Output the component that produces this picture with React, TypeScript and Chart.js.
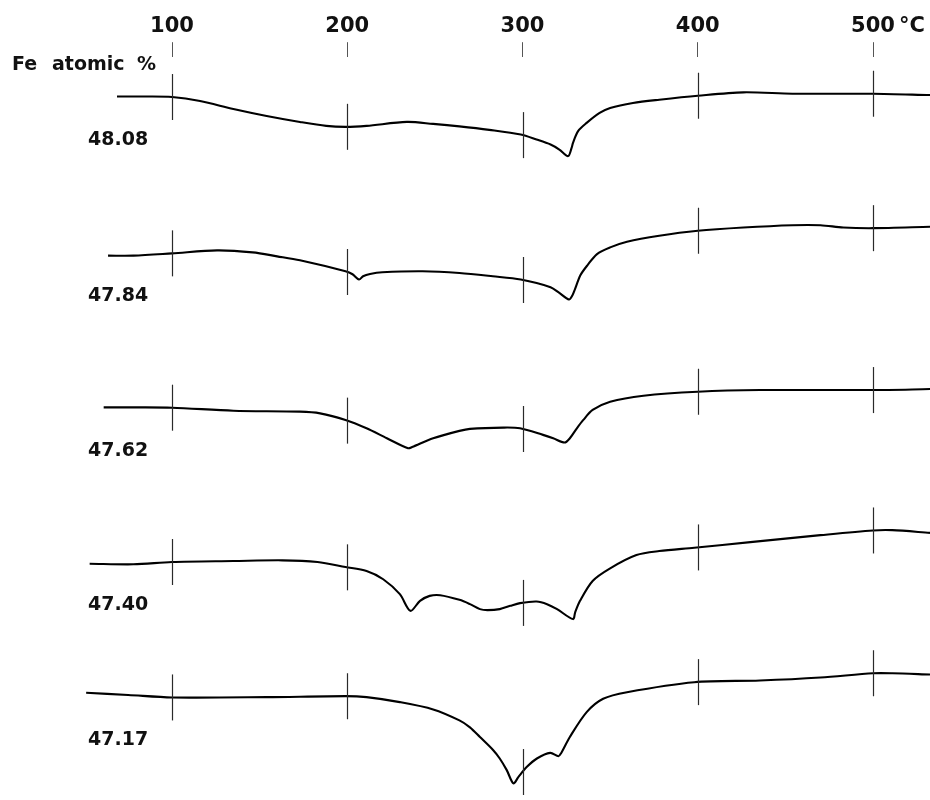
import React, { useEffect, useRef } from "react";
import { Chart, registerables } from "chart.js";

Chart.register(...registerables);

// ---- data (temperature in °C, DTA deflection in arbitrary units, up = exothermic) ----
const X_TICKS = [100, 200, 300, 400, 500];
const COMPOSITIONS = ["48.08", "47.84", "47.62", "47.40", "47.17"];
// stacking level of each trace (value of its baseline at 100 °C)
const BASELINES = [706, 549, 394, 239, 103];

const T_4808 = [68.6, 85, 100, 116, 135, 154, 173, 188, 199, 211, 234, 249, 264, 281, 299, 308, 316, 321, 326, 328, 328.8, 331.7, 336.6, 344, 350, 363, 378, 400, 426, 454, 500, 532.5];
const D_4808 = [0.5, 0.5, 0, -4, -12, -19, -25, -29, -30, -29, -25, -27, -29.5, -33, -37.7, -42.7, -47.7, -52.7, -59.3, -51, -46, -34.3, -26, -16, -11, -6, -2.7, 1.3, 4.7, 3.3, 3.3, 2];

const T_4784 = [63.5, 78, 100, 125.7, 146, 160, 173, 199, 203, 206.7, 209, 213, 220, 243, 264, 283, 299, 316, 321, 326.5, 328.5, 330, 333, 337, 342.5, 350, 359.6, 378, 400, 426, 454, 470, 483, 500, 532.5];
const D_4784 = [-2.3, -2.3, 0, 3, 1, -3, -7, -18, -21, -26.3, -23, -20.7, -19, -18, -19.7, -23, -26.3, -34, -39.7, -46.3, -42, -35.7, -22, -12, -0.7, 6, 11.7, 17.7, 22.7, 26, 28.3, 28.3, 26, 25.3, 26.7];

const T_4762 = [61, 80, 100, 135, 173, 184.5, 199, 211, 222.6, 234.7, 237, 249, 264, 270, 289, 298.6, 311.7, 317.5, 324, 327, 331, 334.7, 340, 350, 369, 400, 435.5, 500, 532.5];
const D_4762 = [0.3, 0.3, 0, -3, -4, -5.7, -12.3, -20.7, -30.7, -40.7, -39.5, -30.7, -23.3, -21.3, -20, -20.7, -27.3, -30.7, -35, -30.7, -20.7, -12.3, -2.3, 6, 12, 16, 17.7, 17.7, 18.7];

const T_4740 = [53, 78, 100, 135, 163, 183, 199, 211, 220.5, 230, 236, 241.5, 247, 253, 264, 270, 275.7, 280, 287, 293, 298.6, 308, 314, 319.7, 328.8, 330, 332.8, 340, 350, 365, 378, 398, 430, 470, 500, 511, 532.5];
const D_4740 = [-1.7, -2.3, 0, 1, 1.7, 0, -5, -9, -17.3, -32.3, -49, -39, -34, -33.3, -38, -42.3, -47.3, -48.3, -47.3, -44, -41.3, -39.7, -42.3, -47.3, -57.3, -50.7, -39, -19, -6.3, 7, 11, 14.3, 20, 27, 31.7, 32, 29.3];

const T_4717 = [51, 75, 100, 154, 199, 211, 230, 249, 264, 270, 275.7, 283.3, 287, 291, 294.8, 297.7, 302.5, 308.2, 315.8, 320.5, 322, 327, 336.6, 346, 359.6, 398, 435.5, 470, 500, 511, 532.5];
const D_4717 = [4.7, 2.5, 0, 0.3, 1.3, 0.3, -4.7, -12, -23, -30, -39.7, -53, -61.3, -73, -86.3, -79.7, -69.7, -61.3, -55.7, -59, -56, -39.7, -14.7, -1.3, 5.3, 15.3, 17, 20, 24.3, 24.3, 23];

const TEMPS = [T_4808, T_4784, T_4762, T_4740, T_4717];
const DEFLECTIONS = [D_4808, D_4784, D_4762, D_4740, D_4717];

const X_MIN = 1.85;
const X_MAX = 532.5;
const FONT = "'DejaVu Sans', 'Liberation Sans', sans-serif";
const TICK_LEN = 15;
const TICK_PAD = 3;
const TICK_FONT_SIZE = 21;

type Pt = { x: number; y: number };

function interp(pts: Pt[], t: number): number {
  for (let i = 0; i < pts.length - 1; i++) {
    const a = pts[i], b = pts[i + 1];
    if (t >= a.x && t <= b.x) {
      const f = (t - a.x) / (b.x - a.x || 1);
      return a.y + f * (b.y - a.y);
    }
  }
  return pts[pts.length - 1].y;
}

const decorations = {
  id: "decorations",
  afterDatasetsDraw(chart: any) {
    const { ctx, scales } = chart;
    const xs = scales.x, ys = scales.y;
    ctx.save();
    // short vertical temperature marks on each trace
    ctx.strokeStyle = "#2a2a2a";
    ctx.lineWidth = 1.2;
    chart.data.datasets.forEach((ds: any) => {
      X_TICKS.forEach((t) => {
        const v = interp(ds.data as Pt[], t);
        const px = Math.round(xs.getPixelForValue(t)) + 0.5;
        const py = ys.getPixelForValue(v);
        ctx.beginPath();
        ctx.moveTo(px, py - 23);
        ctx.lineTo(px, py + 23);
        ctx.stroke();
      });
    });
    // composition labels
    ctx.fillStyle = "#111";
    ctx.font = `bold 19px ${FONT}`;
    ctx.textBaseline = "middle";
    ctx.textAlign = "left";
    COMPOSITIONS.forEach((lab, i) => {
      const py = ys.getPixelForValue(BASELINES[i]);
      ctx.fillText(lab, 88, py + 43);
    });
    // "Fe atomic %"
    ctx.font = `bold 19px ${FONT}`;
    ctx.fillText("Fe", 12, 65);
    ctx.fillText("atomic", 52, 65);
    ctx.fillText("%", 137, 65);
    ctx.restore();
  },
  afterDraw(chart: any) {
    const { ctx, scales, chartArea } = chart;
    const xs = scales.x;
    const lineH = TICK_FONT_SIZE * 1.2;
    const py = chartArea.top - TICK_LEN - TICK_PAD - lineH / 2;
    ctx.save();
    ctx.font = `bold ${TICK_FONT_SIZE}px ${FONT}`;
    ctx.fillStyle = "#111";
    ctx.textAlign = "left";
    ctx.textBaseline = "middle";
    const w = ctx.measureText("500").width;
    const px = xs.getPixelForValue(500);
    ctx.fillText("°C", px + w / 2 + 4, py);
    ctx.restore();
  },
};

export default function App() {
  const ref = useRef<HTMLCanvasElement | null>(null);

  useEffect(() => {
    if (!ref.current) return;
    const datasets = TEMPS.map((ts, i) => ({
      label: COMPOSITIONS[i],
      data: ts.map((t, j) => ({ x: t, y: BASELINES[i] + DEFLECTIONS[i][j] })),
      borderColor: "#000",
      borderWidth: 2.1,
      pointRadius: 0,
      fill: false,
      tension: 0.3,
    }));
    const chart = new Chart(ref.current, {
      type: "line",
      data: { datasets },
      options: {
        animation: false,
        responsive: false,
        layout: { padding: { top: 11, left: 0, right: 0, bottom: 0 } },
        plugins: { legend: { display: false }, tooltip: { enabled: false } },
        scales: {
          x: {
            type: "linear",
            position: "top",
            min: X_MIN,
            max: X_MAX,
            afterBuildTicks: (axis: any) => {
              axis.ticks = X_TICKS.map((v) => ({ value: v }));
            },
            grid: {
              display: true,
              drawOnChartArea: false,
              drawTicks: true,
              tickLength: TICK_LEN,
              color: "#555",
              lineWidth: 1,
            },
            border: { display: false },
            ticks: {
              padding: TICK_PAD,
              color: "#111",
              maxRotation: 0,
              autoSkip: false,
              font: { family: FONT, size: TICK_FONT_SIZE, weight: "bold" },
              callback: (v: any) => String(v),
            },
          },
          y: {
            type: "linear",
            display: false,
            min: 0,
            max: 746,
          },
        },
      },
      plugins: [decorations],
    } as any);
    return () => chart.destroy();
  }, []);

  return (
    <canvas
      ref={ref}
      width={930}
      height={800}
      style={{ position: "absolute", left: 0, top: 0, width: 930, height: 800, background: "#fff" }}
    />
  );
}
